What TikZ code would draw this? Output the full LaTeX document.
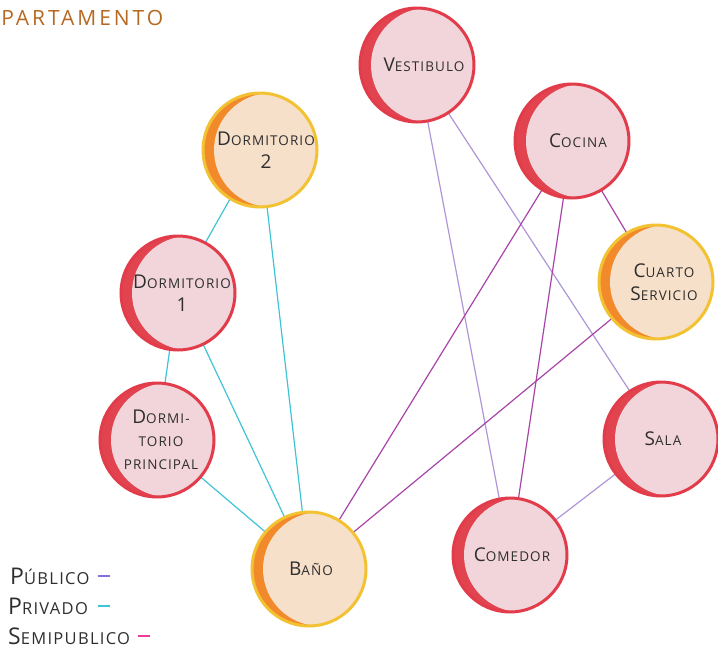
\documentclass[tikz,border=0pt]{standalone}
\usepackage{fontspec}
\setmainfont{Open Sans}[LetterSpace=8]
\definecolor{redborder}{HTML}{E23B4A}
\definecolor{redcres}{HTML}{E2444F}
\definecolor{redfill}{HTML}{F2D5DB}
\definecolor{orborder}{HTML}{F2C232}
\definecolor{orcres}{HTML}{F28A2C}
\definecolor{orfill}{HTML}{F6E0C9}
\definecolor{pubc}{HTML}{AE96D8}
\definecolor{privc}{HTML}{3EC4D6}
\definecolor{semic}{HTML}{A844A8}
\definecolor{inkc}{HTML}{2E2E2E}
\newcommand\hsc[2]{{\fontsize{19}{20}\selectfont #1}{\fontsize{13.5}{16}\selectfont #2}}
\newcommand\smc[1]{{\fontsize{13.5}{16}\selectfont #1}}
\newcommand\lsc[2]{{\fontsize{23}{24}\selectfont #1}{\fontsize{16.5}{18}\selectfont #2}}
\newcommand\roomcirc[6]{%
  \fill[#4cres] (#2,#3) circle (57);
  \begin{scope}
    \clip (#2,#3) circle (57);
    \fill[#4fill] (#2+11,#3) circle (57);
  \end{scope}
  \node[roomnode, draw=#4border] (#1) at (#2,#3) {};
  \node[roomtext] (#1t) at (#2+#5,#3) {#6};
}
\begin{document}
\begin{tikzpicture}[x=1pt,y=-1pt,
  roomnode/.style={circle, inner sep=0pt, minimum size=114pt, line width=3pt},
  roomtext/.style={align=center, text=inkc, inner sep=0pt, font=\fontsize{13.5}{23}\selectfont},
  pub/.style={draw=pubc, line width=1.2pt},
  priv/.style={draw=privc, line width=1.2pt},
  semi/.style={draw=semic, line width=1.2pt},
  legtext/.style={anchor=west, text=inkc, inner sep=0pt},
  legdash/.style={line width=2.4pt}]
\useasboundingbox (0,0) rectangle (718,651);

\coordinate (cvest) at (417,65);
\coordinate (ccoc) at (572,141);
\coordinate (cdor2) at (260,146);
\coordinate (ccuar) at (656,282);
\coordinate (cdor1) at (178,291);
\coordinate (cdorp) at (157,440);
\coordinate (csala) at (661,439);
\coordinate (ccom) at (510,555);
\coordinate (cbano) at (309,569);

% edges (behind circles)
\draw[priv] (cdor2) -- (cdor1);
\draw[priv] (cdor2) -- (cbano);
\draw[priv] (cdor1) -- (cdorp);
\draw[priv] (cdor1) -- (cbano);
\draw[priv] (cdorp) -- (cbano);
\draw[pub] (cvest) -- (ccom);
\draw[pub] (cvest) -- (csala);
\draw[pub] (csala) -- (ccom);
\draw[semi] (ccoc) -- (cbano);
\draw[semi] (ccoc) -- (ccom);
\draw[semi] (ccoc) -- (ccuar);
\draw[semi] (ccuar) -- (cbano);

% rooms
\roomcirc{vest}{417}{65}{red}{7}{\hsc{V}{ESTIBULO}}
\roomcirc{coc}{572}{141}{red}{6}{\hsc{C}{OCINA}}
\roomcirc{dor2}{260}{150}{or}{6}{\hsc{D}{ORMITORIO}\\{\fontsize{19}{20}\selectfont 2}}
\roomcirc{cuar}{656}{282}{or}{8}{\hsc{C}{UARTO}\\\hsc{S}{ERVICIO}}
\roomcirc{dor1}{178}{293}{red}{4}{\hsc{D}{ORMITORIO}\\{\fontsize{19}{20}\selectfont 1}}
\roomcirc{dorp}{157}{440}{red}{4}{\hsc{D}{ORMI-}\\\smc{TORIO}\\\smc{PRINCIPAL}}
\roomcirc{sala}{661}{439}{red}{2}{\hsc{S}{ALA}}
\roomcirc{com}{510}{555}{red}{2}{\hsc{C}{OMEDOR}}
\roomcirc{bano}{309}{569}{or}{2}{\hsc{B}{AÑO}}

% title
\node[anchor=west, inner sep=0pt, text=orcres!75!black, font=\fontsize{21}{22}\selectfont\addfontfeatures{LetterSpace=14}] (title) at (-15,18) {APARTAMENTO};

% legend
\node[legtext] (lpub) at (10,576) {\lsc{P}{ÚBLICO}};
\node[legtext] (lpriv) at (8,606) {\lsc{P}{RIVADO}};
\node[legtext] (lsemi) at (8,636) {\lsc{S}{EMIPUBLICO}};
\draw[legdash, draw=pubc!75!blue] ([xshift=8pt]lpub.east) -- ++(12,0);
\draw[legdash, draw=privc] ([xshift=10pt]lpriv.east) -- ++(12,0);
\draw[legdash, draw=magenta!70!pink] ([xshift=8pt]lsemi.east) -- ++(12,0);
\end{tikzpicture}
\end{document}
